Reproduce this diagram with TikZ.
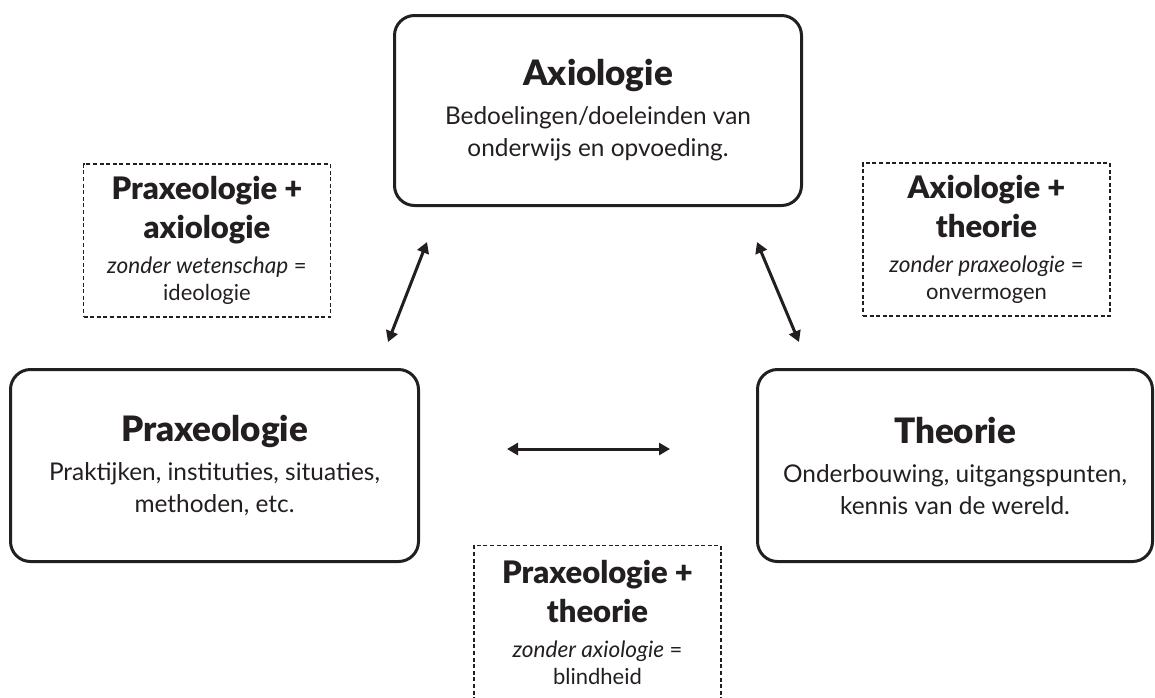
\documentclass[tikz,border=0pt]{standalone}
\usepackage{fontspec}
\setmainfont{Lato}[BoldFont={Lato Black}]
\usetikzlibrary{positioning, arrows.meta}
\definecolor{ink}{HTML}{231F20}
\tikzset{
    main_box/.style={
        rectangle,
        rounded corners=10pt,      % afgeronde hoeken
        draw=ink,
        line width=1.5pt,
        align=center,
        text=ink,
        font=\fontsize{12.2pt}{16pt}\selectfont
    },
    note_box/.style={
        rectangle,
        draw=ink,
        line width=0.6pt,
        dash pattern=on 2pt off 1.3pt, % fijne stippellijn
        minimum width=123.5pt,
        minimum height=76.5pt,
        align=center,
        text=ink,
        font=\fontsize{11pt}{13.5pt}\selectfont
    },
    link_arrow/.style={
        {Triangle[length=5.5pt,width=6pt]}-{Triangle[length=5.5pt,width=6pt]},
        line width=1.5pt,
        draw=ink
    }
}
\newcommand{\maintitle}[1]{{\fontsize{17.5pt}{19pt}\selectfont\bfseries #1}}
\newcommand{\notetitle}[1]{{\fontsize{15.5pt}{17pt}\selectfont\bfseries #1}}
\newcommand{\notecond}[1]{{\fontsize{11.3pt}{13.5pt}\selectfont\itshape #1}}

\begin{document}
\begin{tikzpicture}[x=0.5pt, y=-0.5pt]
            \clip (0,0) rectangle (1155,697);
            % 1. hoofdblokken
            \node[main_box, minimum width=203.5pt, minimum height=95pt] (axio) at (598,110.5)
                {\maintitle{Axiologie}\\[3.5pt]Bedoelingen/doeleinden van\\onderwijs en opvoeding.};
            \node[main_box, minimum width=204pt, minimum height=96pt] (praxis) at (214.5,465.5)
                {\maintitle{Praxeologie}\\[3.5pt]Praktijken, instituties, situaties,\\methoden, etc.};
            \node[main_box, minimum width=197.5pt, minimum height=96pt] (theory) at (955,465.5)
                {\maintitle{Theorie}\\[3.5pt]Onderbouwing, uitgangspunten,\\kennis van de wereld.};

            % 2. combinaties (stippelkaders)
            \node[note_box] (praxis_axio) at (207,240.5)
                {\notetitle{Praxeologie +}\\[4pt]\notetitle{axiologie}\\[4pt]\notecond{zonder wetenschap} =\\ideologie};
            \node[note_box] (axio_theory) at (986.5,239.5)
                {\notetitle{Axiologie +}\\[4pt]\notetitle{theorie}\\[4pt]\notecond{zonder praxeologie} =\\onvermogen};
            \node[note_box] (praxis_theory) at (597.5,622)
                {\notetitle{Praxeologie +}\\[4pt]\notetitle{theorie}\\[4pt]\notecond{zonder axiologie} =\\blindheid};

            % 3. pijlen
            \coordinate (left_top) at (427,242);
            \coordinate (left_bottom) at (388,342);
            \coordinate (right_top) at (757,242);
            \coordinate (right_bottom) at (799,342);
            \coordinate (mid_left) at (507,449);
            \coordinate (mid_right) at (670,449);
            \draw[link_arrow] (left_top) -- (left_bottom);
            \draw[link_arrow] (right_top) -- (right_bottom);
            \draw[link_arrow] (mid_left) -- (mid_right);
        \end{tikzpicture}
\end{document}
